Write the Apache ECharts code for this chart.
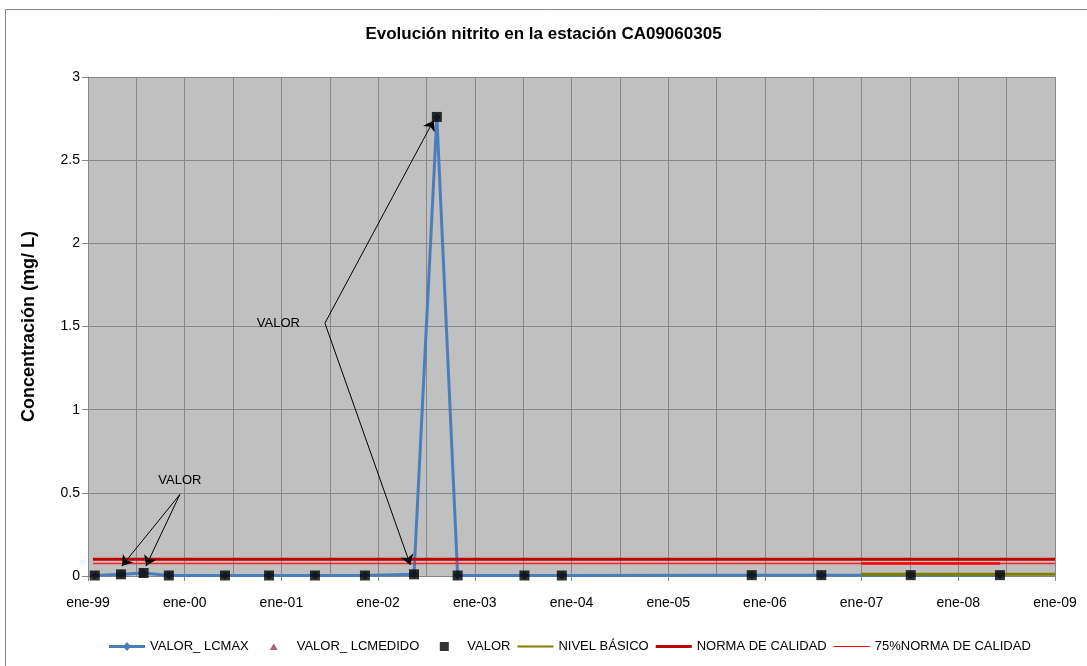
<!DOCTYPE html>
<html>
<head>
<meta charset="utf-8">
<script src="https://cdn.jsdelivr.net/npm/echarts@6/dist/echarts.min.js"></script>
<style>
html, body { margin: 0; padding: 0; background: #fff; }
#main { width: 1087px; height: 666px; }
</style>
</head>
<body>
<div id="main"></div>
<script>
// fechas de muestreo y valores (mg/L)
var fechas = ['1999-01-27', '1999-05-04', '1999-07-29', '1999-11-02', '2000-06-01', '2000-11-15',
  '2001-05-06', '2001-11-12', '2002-05-15', '2002-08-10', '2002-10-28', '2003-07-06',
  '2003-11-25', '2005-11-12', '2006-08-01', '2007-07-04', '2008-06-06'];
var valores = [0.003, 0.01, 0.018, 0.003, 0.003, 0.003, 0.003, 0.003, 0.01, 2.76, 0.003, 0.003,
  0.003, 0.005, 0.005, 0.005, 0.005];
var fechasNivel = ['2007-01-01', '2009-01-01'];
var nivelBasico = [0.01, 0.01];
var fechasNorma = ['1999-01-20', '2009-01-01'];
var norma = [0.1, 0.1];
var norma75 = [0.075, 0.075];
var fechasNorma75b = ['2007-01-01', '2008-06-06'];
var norma75b = [0.075, 0.075];
var anios = ['99', '00', '01', '02', '03', '04', '05', '06', '07', '08', '09'];

function meses(f) {
  var p = f.split('-');
  var y = +p[0], m = +p[1], d = +p[2];
  var dim = new Date(y, m, 0).getDate();
  return (y - 1999) * 12 + (m - 1) + (d - 1) / dim;
}
function pares(fs, vs) {
  return fs.map(function (f, i) { return [meses(f), vs[i]]; });
}

var chart = echarts.init(document.getElementById('main'));
var font = 'Liberation Sans, Arial, sans-serif';

// iconos de la leyenda (caja 36x10)
var caja = 'M0,0h0.01M36,10h-0.01';
var iconos = {
  lcmax: 'path://' + caja + 'M0,3.5h36v3h-36zM18,0.5L22,5L18,9.5L14,5Z',
  medido: 'path://' + caja + 'M18,2L22,8.5L14,8.5Z',
  valor: 'path://' + caja + 'M13.5,0.5h9v9h-9z',
  grueso: 'path://' + caja + 'M0,3.5h36v3h-36z',
  nivel: 'path://' + caja + 'M0,4h36v2h-36z',
  fino: 'path://' + caja + 'M0,4.5h36v1h-36z'
};

var option = {
  animation: false,
  backgroundColor: '#fff',
  textStyle: { fontFamily: font },
  title: {
    text: 'Evolución nitrito en la estación CA09060305',
    left: 'center', top: 21,
    textStyle: { fontSize: 17, fontWeight: 'bold', color: '#000', fontFamily: font }
  },
  grid: { left: 88, right: 32, top: 77, bottom: 90, show: true, backgroundColor: '#c0c0c0', borderWidth: 0 },
  legend: {
    left: 104, bottom: 8,
    itemGap: 7, itemWidth: 36, itemHeight: 10,
    textStyle: { fontSize: 13, color: '#000', fontFamily: font },
    data: [
      { name: 'VALOR_ LCMAX', icon: iconos.lcmax, itemStyle: { color: '#4a7ebb' } },
      { name: 'VALOR_ LCMEDIDO', icon: iconos.medido, itemStyle: { color: '#993366' } },
      { name: 'VALOR', icon: iconos.valor, itemStyle: { color: '#000' } },
      { name: 'NIVEL BÁSICO', icon: iconos.nivel, itemStyle: { color: '#808000' } },
      { name: 'NORMA DE CALIDAD', icon: iconos.grueso, itemStyle: { color: '#c00000' } },
      { name: '75%NORMA DE CALIDAD', icon: iconos.fino, itemStyle: { color: '#ff0000' } }
    ]
  },
  xAxis: {
    type: 'value', min: 0, max: 120, interval: 12,
    axisLine: { lineStyle: { color: '#888' } },
    axisTick: { show: true, length: 5, lineStyle: { color: '#888' } },
    axisLabel: {
      margin: 20, fontSize: 14, color: '#000',
      formatter: function (v) { return 'ene-' + anios[Math.round(v / 12)]; }
    },
    splitLine: { show: true, lineStyle: { color: '#888', width: 1 } },
    minorTick: { show: false, splitNumber: 2 },
    minorSplitLine: { show: true, lineStyle: { color: '#888', width: 1 } }
  },
  yAxis: {
    type: 'value', min: 0, max: 3, interval: 0.5,
    name: 'Concentración (mg/ L)', nameLocation: 'middle', nameGap: 50, nameRotate: 90,
    nameTextStyle: { fontSize: 18, fontWeight: 'bold', color: '#000', fontFamily: font },
    axisLine: { show: true, lineStyle: { color: '#888' } },
    axisTick: { show: true, length: 6, lineStyle: { color: '#888' } },
    axisLabel: { fontSize: 14, color: '#000', margin: 8 },
    splitLine: { show: true, lineStyle: { color: '#888', width: 1 } }
  },
  series: [
    {
      name: 'VALOR_ LCMAX', type: 'line', data: pares(fechas, valores),
      symbol: 'diamond', symbolSize: 8, showSymbol: true,
      lineStyle: { color: '#4a7ebb', width: 3 },
      itemStyle: { color: '#4a7ebb' }, z: 3
    },
    {
      name: 'VALOR_ LCMEDIDO', type: 'scatter', data: [],
      symbol: 'triangle', symbolSize: 8, itemStyle: { color: '#993366' }
    },
    {
      name: 'NIVEL BÁSICO', type: 'line', data: pares(fechasNivel, nivelBasico),
      symbol: 'none', lineStyle: { color: '#808000', width: 3 }, itemStyle: { color: '#808000' }, z: 4
    },
    {
      name: 'NORMA DE CALIDAD', type: 'line', data: pares(fechasNorma, norma),
      symbol: 'none', lineStyle: { color: '#c00000', width: 3 }, itemStyle: { color: '#c00000' }, z: 4
    },
    {
      name: '75%NORMA DE CALIDAD', type: 'line', data: pares(fechasNorma, norma75),
      symbol: 'none', lineStyle: { color: '#ff2020', width: 1.5 }, itemStyle: { color: '#ff0000' }, z: 4
    },
    {
      name: '75%NORMA DE CALIDAD (2007)', type: 'line', data: pares(fechasNorma75b, norma75b),
      symbol: 'none', lineStyle: { color: '#ff0000', width: 2.5 }, itemStyle: { color: '#ff0000' }, z: 4
    },
    {
      name: 'VALOR', type: 'scatter', data: pares(fechas, valores),
      symbol: 'rect', symbolSize: 10, itemStyle: { color: '#000' }, z: 5,
      markLine: {
        silent: true, symbol: ['none', 'arrow'], symbolSize: 10,
        lineStyle: { color: '#000', width: 1, type: 'solid' },
        label: { show: false },
        data: [
          [{ coord: [29.4, 1.52] }, { coord: [42.9, 2.74] }],
          [{ coord: [29.4, 1.52] }, { coord: [40.0, 0.066] }],
          [{ coord: [11.4, 0.49] }, { coord: [4.2, 0.06] }],
          [{ coord: [11.4, 0.49] }, { coord: [7.2, 0.06] }]
        ]
      }
    }
  ]
};
chart.setOption(option);

// etiquetas de las anotaciones
var etiquetas = [
  { coord: [29.4, 1.52], align: 'right', dx: -25, dy: 0 },
  { coord: [11.4, 0.49], align: 'center', dx: 0, dy: -14 }
];
chart.setOption({
  graphic: [
    { type: 'rect', x: 5.5, y: 9.5, shape: { x: 0, y: 0, width: 1100, height: 700 },
      style: { fill: 'none', stroke: '#888', lineWidth: 1 }, silent: true, z: -1 }
  ].concat(etiquetas.map(function (e) {
    var p = chart.convertToPixel({ gridIndex: 0 }, e.coord);
    return {
      type: 'text', x: p[0] + e.dx, y: p[1] + e.dy, z: 10,
      style: { text: 'VALOR', fill: '#000', font: '13px ' + font, textAlign: e.align, textVerticalAlign: 'middle' }
    };
  }))
});
</script>
</body>
</html>
